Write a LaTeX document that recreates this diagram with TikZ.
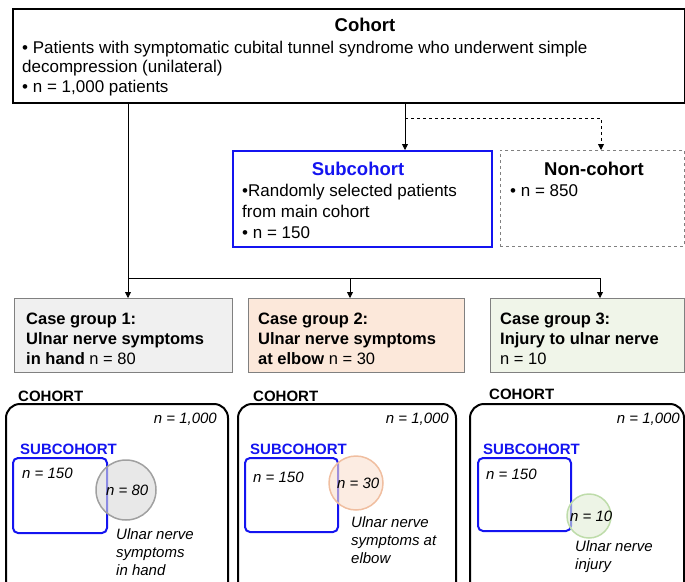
\documentclass[tikz,border=0pt]{standalone}
\usepackage{fontspec}
\setmainfont{Liberation Sans}
\usetikzlibrary{arrows.meta}
\definecolor{subblue}{RGB}{20,20,240}
\definecolor{grayfill}{RGB}{240,240,240}
\definecolor{peachfill}{RGB}{252,232,218}
\definecolor{greenfill}{RGB}{240,245,233}
\definecolor{peachline}{RGB}{240,190,160}
\definecolor{greenline}{RGB}{190,220,170}
\definecolor{circgray}{RGB}{160,160,160}
\begin{document}
\begin{tikzpicture}[x=1pt,y=-1pt,
  box/.style={draw, minimum width=#1, anchor=north west, inner sep=0pt},
  txt/.style={anchor=base west, inner sep=0pt, font=\fontsize{17}{19}\selectfont},
  ttl/.style={anchor=base, inner sep=0pt, font=\fontsize{18.5}{20}\selectfont\bfseries},
  casetxt/.style={anchor=base west, inner sep=0pt, font=\fontsize{16.5}{18}\selectfont\bfseries},
  small/.style={anchor=base west, inner sep=0pt, font=\fontsize{15}{17}\selectfont\itshape},
  smallr/.style={anchor=base east, inner sep=0pt, font=\fontsize{15}{17}\selectfont\itshape},
  lab/.style={anchor=base west, inner sep=0pt, font=\fontsize{15}{17}\selectfont\bfseries},
  panel/.style={draw, line width=2pt, rounded corners=14pt},
  subsq/.style={draw=subblue, line width=2pt, rounded corners=5pt},
  arr/.style={-{Triangle[length=6pt,width=6pt]}, line width=0.8pt},
  conn/.style={line width=0.8pt}]
\useasboundingbox (0,0) rectangle (685,581);

% top: cohort
\node[box=672pt, minimum height=94pt, line width=2pt] (cohort) at (12,8) {};
\node[ttl] (cohortT) at (365,31) {Cohort};
\node[txt] (c1) at (22,53) {• Patients with symptomatic cubital tunnel syndrome who underwent simple};
\node[txt] (c2) at (22,72) {decompression (unilateral)};
\node[txt] (c3) at (22,92) {• n = 1,000 patients};

% subcohort and non-cohort
\node[box=259pt, minimum height=96pt, draw=subblue, line width=1.8pt] (sub) at (232,150) {};
\node[ttl, text=subblue] (subT) at (358,175) {Subcohort};
\node[txt] (s1) at (242,196) {•Randomly selected patients};
\node[txt] (s2) at (242,217) {from main cohort};
\node[txt] (s3) at (242,238) {• n = 150};

\node[box=184pt, minimum height=96pt, draw=gray, dashed, line width=0.8pt] (non) at (500,150) {};
\node[ttl] (nonT) at (594,175) {Non-cohort};
\node[txt] (n1) at (510,196) {• n = 850};

% case groups
\node[box=218pt, minimum height=74pt, draw=gray, fill=grayfill, line width=0.8pt] (case1) at (14,298) {};
\node[box=216pt, minimum height=74pt, draw=gray, fill=peachfill, line width=0.8pt] (case2) at (248,298) {};
\node[box=194pt, minimum height=74pt, draw=gray, fill=greenfill, line width=0.8pt] (case3) at (490,298) {};

\node[casetxt] (a1) at (26,324) {Case group 1:};
\node[casetxt] (a2) at (26,344) {Ulnar nerve symptoms};
\node[casetxt] (a3) at (26,364) {in hand \mdseries n = 80};
\node[casetxt] (b1) at (258,324) {Case group 2:};
\node[casetxt] (b2) at (258,344) {Ulnar nerve symptoms};
\node[casetxt] (b3) at (258,364) {at elbow \mdseries n = 30};
\node[casetxt] (d1) at (500,324) {Case group 3:};
\node[casetxt] (d2) at (500,344) {Injury to ulnar nerve};
\node[casetxt, font=\fontsize{16.5}{18}\selectfont] (d3) at (500,364) {n = 10};

% connectors
\coordinate (j1) at (128,278);
\coordinate (j2) at (350,278);
\coordinate (j3) at (600,278);
\coordinate (sj) at (405,118);
\coordinate (nj) at (601,118);
\draw[conn] (cohort.south -| j1) -- (j1) -- (j3);
\draw[arr] (j1) -- (j1 |- case1.north);
\draw[arr] (j2) -- (j2 |- case2.north);
\draw[arr] (j3) -- (j3 |- case3.north);
\draw[arr] (cohort.south -| sj) -- (sub.north -| sj);
\draw[arr, dashed] (sj) -- (nj) -- (non.north -| nj);

% bottom diagrams
\node[lab] (L1) at (18,401) {COHORT};
\node[lab] (L2) at (253,401) {COHORT};
\node[lab] (L3) at (489,399) {COHORT};

\draw[panel] (6,586) -- (6,404) -- (228,404) -- (228,586);
\draw[panel] (238,586) -- (238,404) -- (456,404) -- (456,586);
\draw[panel] (470,586) -- (470,404) -- (684,404) -- (684,586);

\node[smallr] (N1) at (217,423) {n = 1,000};
\node[smallr] (N2) at (449,423) {n = 1,000};
\node[smallr] (N3) at (680,423) {n = 1,000};

\node[lab, text=subblue] (S1) at (20,454) {SUBCOHORT};
\node[lab, text=subblue] (S2) at (250,454) {SUBCOHORT};
\node[lab, text=subblue] (S3) at (483,454) {SUBCOHORT};

\draw[subsq] (13,458) rectangle (107,533);
\draw[subsq] (245,458) rectangle (338,532);
\draw[subsq] (478,458) rectangle (571,531);

\node[small] (p1) at (22,478) {n = 150};
\node[small] (p2) at (253,482) {n = 150};
\node[small] (p3) at (486,479) {n = 150};

\fill[circgray!40, fill opacity=0.6] (126,490) circle (30);
\draw[circgray, line width=1.5pt] (126,490) circle (30);
\fill[peachfill!80!peachline, fill opacity=0.6] (356,483) circle (27);
\draw[peachline, line width=1.5pt] (356,483) circle (27);
\fill[greenfill!70!greenline, fill opacity=0.6] (589,516) circle (22);
\draw[greenline, line width=1.5pt] (589,516) circle (22);

\node[small] (q1) at (106,495) {n = 80};
\node[small] (q2) at (337,488) {n = 30};
\node[small] (q3) at (570,521) {n = 10};

\node[small] (r1) at (116,539) {Ulnar nerve};
\node[small] (r2) at (116,557) {symptoms};
\node[small] (r3) at (116,575) {in hand};
\node[small] (t1) at (351,527) {Ulnar nerve};
\node[small] (t2) at (351,545) {symptoms at};
\node[small] (t3) at (351,563) {elbow};
\node[small] (u1) at (575,551) {Ulnar nerve};
\node[small] (u2) at (575,569) {injury};
\end{tikzpicture}
\end{document}
